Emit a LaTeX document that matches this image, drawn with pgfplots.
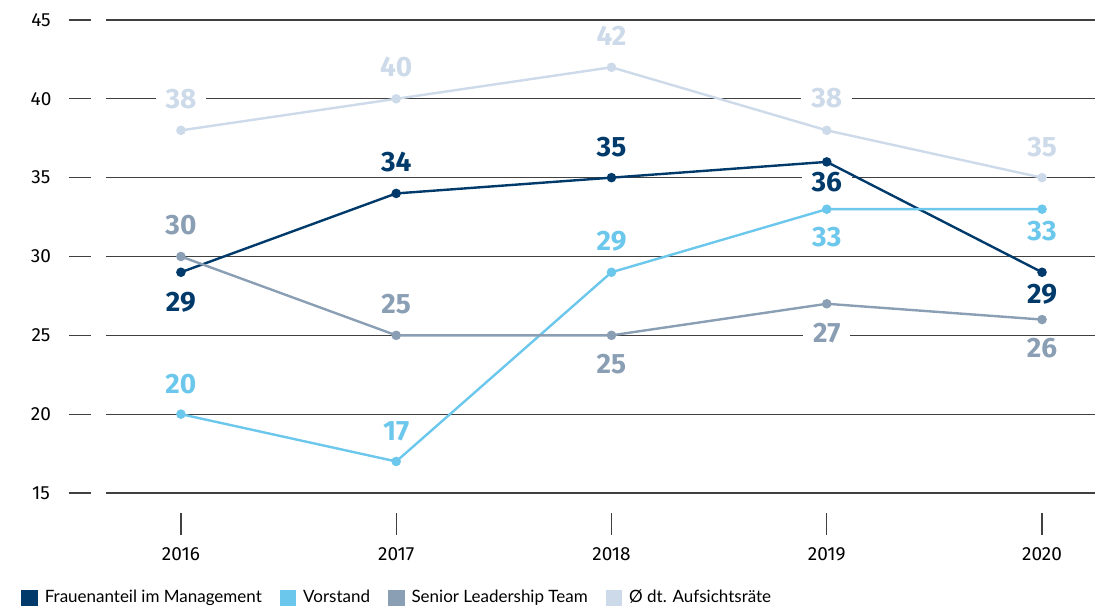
\documentclass[border=0pt]{standalone}
\usepackage{pgfplots}
\pgfplotsset{compat=1.18}
\usepackage{fontspec}
\setmainfont{Fira Sans}
\newfontfamily\legfont{Lato}
\definecolor{mgmt}{RGB}{0,58,106}
\definecolor{vorst}{RGB}{108,199,236}
\definecolor{senior}{RGB}{138,158,180}
\definecolor{aufs}{RGB}{205,218,234}

% year index (0 = 2016), value, height of its label
\pgfplotstableread{
x y ly
0 29 27.10
1 34 35.97
2 35 36.97
3 36 34.73
4 29 27.60
}\mgmtdata
\pgfplotstableread{
x y ly
0 20 21.90
1 17 18.90
2 29 30.97
3 33 31.22
4 33 31.60
}\vorstdata
\pgfplotstableread{
x y ly
0 30 31.97
1 25 26.97
2 25 23.16
3 27 25.16
4 26 24.22
}\seniordata
\pgfplotstableread{
x y ly
0 38 39.97
1 40 42.03
2 42 43.97
3 38 40.03
4 35 36.97
}\aufsdata

\pgfplotsset{
  base/.style={anchor=south west,
    scale only axis, width=494.5pt, height=236.5pt,
    xmin=-0.348, xmax=4.246, ymin=15, ymax=45,
    axis line style={draw=none}, tick style={draw=none}, clip=false},
  lab/.style={draw=none, forget plot, mark=none,
    nodes near coords, point meta=explicit symbolic,
    every node near coord/.style={anchor=center, fill=white,
      inner xsep=5pt, inner ysep=1pt, text=#1,
      font=\fontsize{14}{16}\selectfont\bfseries}},
  ser/.style={color=#1, line width=1.2pt, mark=*, mark size=1.75pt,
    mark options={solid, fill=#1, draw=#1}},
}

\begin{document}
\begin{tikzpicture}
% grid, tick labels and the value labels
\begin{axis}[base,
  xtick={0,1,2,3,4}, xticklabels={2016,2017,2018,2019,2020},
  ytick={15,20,...,45},
  ymajorgrids, grid style={black!75, line width=0.6pt},
  /pgf/number format/assume math mode=true,
  xticklabel style={anchor=center, yshift=-30.5pt, font=\fontsize{9.5}{11}\selectfont},
  yticklabel style={anchor=center, xshift=-32.5pt, font=\fontsize{9.5}{11}\selectfont},
]
\addplot[lab=mgmt] table[x=x, y=ly, meta=y] {\mgmtdata};
\addplot[lab=vorst] table[x=x, y=ly, meta=y] {\vorstdata};
\addplot[lab=senior] table[x=x, y=ly, meta=y] {\seniordata};
\addplot[lab=aufs] table[x=x, y=ly, meta=y] {\aufsdata};

\pgfplotsinvokeforeach{15,20,...,45}{
  \draw[black!75, line width=0.6pt] ([xshift=-18.5pt]axis cs:-0.348,#1) -- ++(11pt,0pt);
}
\pgfplotsinvokeforeach{0,...,4}{
  \draw[black!75, line width=0.6pt] ([yshift=-10pt]axis cs:#1,15) -- ++(0pt,-11pt);
}
\end{axis}
% the lines, on top
\begin{axis}[base, xtick=\empty, ytick=\empty,
  legend columns=4,
  legend style={at={(0,0)}, anchor=west, xshift=-42.5pt, yshift=-52.5pt,
    draw=none, fill=none, inner sep=0pt, nodes={inner sep=0pt},
    font=\legfont\fontsize{8.5}{10}\selectfont,
    /tikz/every odd column/.append style={column sep=3.5pt},
    /tikz/every even column/.append style={column sep=9pt}},
  legend image code/.code={\fill[#1] (0pt,-3.5pt) rectangle (7pt,3.5pt);},
]
\addplot[ser=mgmt] table[x=x, y=y] {\mgmtdata};
\addlegendentry{Frauenanteil im Management}
\addplot[ser=vorst] table[x=x, y=y] {\vorstdata};
\addlegendentry{Vorstand}
\addplot[ser=senior] table[x=x, y=y] {\seniordata};
\addlegendentry{Senior Leadership Team}
\addplot[ser=aufs] table[x=x, y=y] {\aufsdata};
\addlegendentry{Ø dt. Aufsichtsräte}
\end{axis}
\pgfresetboundingbox
\path[use as bounding box] (-53pt,-57.5pt) rectangle (496.5pt,246.5pt);
\end{tikzpicture}
\end{document}
